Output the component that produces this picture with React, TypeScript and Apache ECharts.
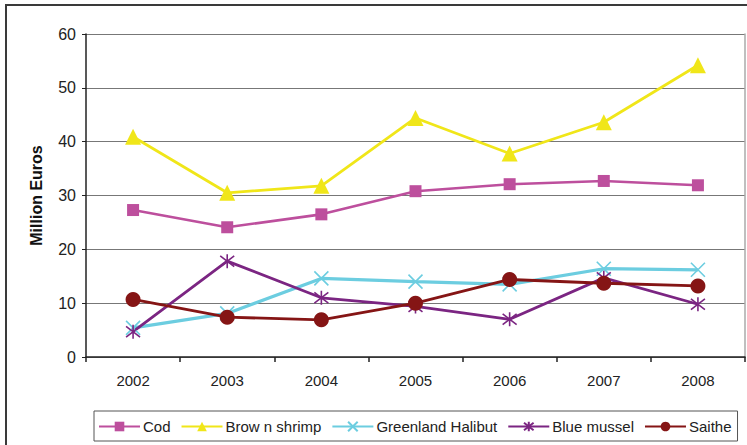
import React, { useEffect, useRef } from "react";
import * as echarts from "echarts";

const years = ["2002", "2003", "2004", "2005", "2006", "2007", "2008"];
const cod = [27.3, 24.1, 26.5, 30.8, 32.1, 32.7, 31.9];
const brownShrimp = [40.9, 30.5, 31.8, 44.4, 37.8, 43.6, 54.2];
const greenlandHalibut = [5.4, 8.1, 14.6, 14.0, 13.5, 16.4, 16.2];
const blueMussel = [4.7, 17.8, 11.0, 9.4, 7.0, 14.7, 9.8];
const saithe = [10.7, 7.4, 6.9, 10.0, 14.4, 13.7, 13.2];
const yTicks = [0, 10, 20, 30, 40, 50, 60];

const crossPath = "path://M0,0L10,10M10,0L0,10";
const asteriskPath = "path://M0,0L10,10M10,0L0,10M5,-1.5L5,11.5";

export default function App() {
  const ref = useRef<HTMLDivElement>(null);
  useEffect(() => {
    if (!ref.current) return;
    const chart = echarts.init(ref.current, undefined, { renderer: "svg" });
    const font = "Liberation Sans, Arial, sans-serif";
    const mk = (name: string, data: number[], color: string, symbol: string, size: number, lw: number, stroke?: boolean) => ({
      name,
      type: "line",
      data,
      symbol,
      symbolSize: size,
      showSymbol: true,
      lineStyle: { color, width: lw },
      itemStyle: stroke
        ? { color: "rgba(0,0,0,0)", borderColor: color, borderWidth: 1.6 }
        : { color, borderColor: color, borderWidth: 0 },
      emphasis: { disabled: true },
    });
    chart.setOption({
      animation: false,
      backgroundColor: "#fff",
      textStyle: { fontFamily: font },
      grid: { left: 86, right: 2, top: 34, bottom: 88, containLabel: false },
      graphic: [
        {
          type: "rect",
          shape: { x: 6, y: 5, width: 800, height: 500 },
          style: { fill: "none", stroke: "#3a3a3a", lineWidth: 2 },
          silent: true,
        },
      ],
      xAxis: {
        type: "category",
        data: years,
        boundaryGap: true,
        axisLine: { lineStyle: { color: "#222", width: 1.5 } },
        axisTick: { show: true, length: 5, lineStyle: { color: "#222", width: 1.5 } },
        axisLabel: { color: "#222", fontSize: 15, fontFamily: font, margin: 16 },
        splitLine: { show: false },
      },
      yAxis: [
        {
          type: "value",
          min: yTicks[0],
          max: yTicks[yTicks.length - 1],
          interval: 10,
          name: "Million Euros",
          nameLocation: "middle",
          nameGap: 42,
          nameTextStyle: { color: "#111", fontSize: 16, fontWeight: "bold", fontFamily: font },
          axisLine: { show: true, lineStyle: { color: "#222", width: 1.5 } },
          axisTick: { show: true, length: 4, lineStyle: { color: "#222" } },
          axisLabel: { color: "#222", fontSize: 16, fontFamily: font, margin: 10 },
          splitLine: { show: true, lineStyle: { color: "#777", width: 1.2 } },
        },
        {
          type: "value",
          position: "right",
          min: 0,
          max: 60,
          interval: 10,
          axisLine: { show: true, lineStyle: { color: "#aaa", width: 1.5 } },
          axisTick: { show: false },
          axisLabel: { show: false },
          splitLine: { show: false },
        },
      ],
      legend: {
        left: 94,
        top: 411,
        orient: "horizontal",
        itemWidth: 41,
        itemHeight: 12,
        itemGap: 10,
        padding: [8, 6, 7, 4],
        borderColor: "#555",
        borderWidth: 1,
        textStyle: { color: "#222", fontSize: 15, fontFamily: font, padding: [0, 0, 0, -2] },
        data: ["Cod", "Brow n shrimp", "Greenland Halibut", "Blue mussel", "Saithe"],
      },
      series: [
        mk("Cod", cod, "#bd4f9d", "rect", 12, 2.6),
        mk("Brow n shrimp", brownShrimp, "#f0e619", "triangle", 16, 2.8),
        mk("Greenland Halibut", greenlandHalibut, "#6ccde0", crossPath, 14, 3.2, true),
        mk("Blue mussel", blueMussel, "#7b2582", asteriskPath, 14, 2.8, true),
        mk("Saithe", saithe, "#851515", "circle", 15, 2.8),
      ],
    });
    return () => chart.dispose();
  }, []);
  return <div ref={ref} style={{ position: "absolute", left: 0, top: 0, width: 747, height: 445 }} />;
}
